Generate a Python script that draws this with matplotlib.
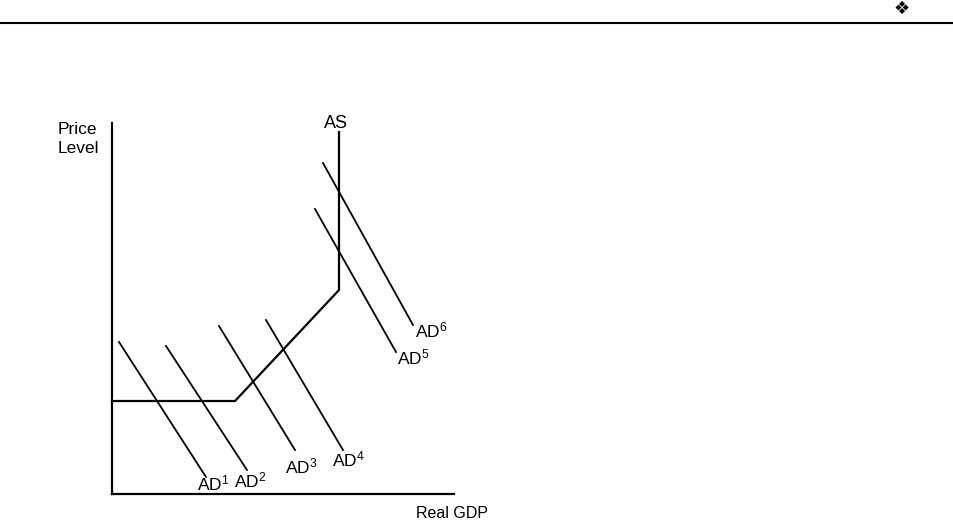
import matplotlib
matplotlib.use("Agg")
import matplotlib.pyplot as plt
from matplotlib.lines import Line2D

plt.rcParams['font.family'] = ['Liberation Sans', 'DejaVu Sans']
plt.rcParams['mathtext.default'] = 'regular'

# Aggregate supply curve (Real GDP, Price Level)
as_gdp = [0, 123, 227, 227]
as_price = [93, 93, 204, 362]

# Aggregate demand curves: start and end points
ad_names = ['AD$^{1}$', 'AD$^{2}$', 'AD$^{3}$', 'AD$^{4}$', 'AD$^{5}$', 'AD$^{6}$']
ad_gdp_start = [7, 54, 107, 154, 203, 211]
ad_price_start = [152, 148, 168, 174, 285, 331]
ad_gdp_end = [94, 135, 183, 231, 284, 301]
ad_price_end = [17, 24, 44, 44, 142, 169]

# Label anchor points
ad_label_gdp = [85, 122, 173, 220, 285, 303]
ad_label_price = [11, 14, 28, 35, 137, 164]

W, H = 954, 526
fig = plt.figure(figsize=(W / 100, H / 100), dpi=100)

# header rule and ornament
fig.add_artist(Line2D([0, 1], [1 - 23 / H, 1 - 23 / H], transform=fig.transFigure,
                      color='black', lw=1.5))
fig.text(902 / W, 1 - 9 / H, '\u2756', family=['DejaVu Sans'], fontsize=13,
         ha='center', va='center')

left, right, top, bottom = 112, 454, 123, 494
ax = fig.add_axes([left / W, 1 - bottom / H, (right - left) / W, (bottom - top) / H])
ax.set_xlim(0, right - left)
ax.set_ylim(0, bottom - top)
for s in ['top', 'right']:
    ax.spines[s].set_visible(False)
for s in ['left', 'bottom']:
    ax.spines[s].set_linewidth(1.6)
ax.set_xticks([])
ax.set_yticks([])

ax.plot(as_gdp, as_price, color='black', lw=1.6, solid_joinstyle='miter', clip_on=False)
ax.text(as_gdp[-1] - 3, as_price[-1] + 9, 'AS', fontsize=13, ha='center', va='center')

for i, name in enumerate(ad_names):
    ax.plot([ad_gdp_start[i], ad_gdp_end[i]], [ad_price_start[i], ad_price_end[i]],
            color='black', lw=1.3, clip_on=False)
    ax.text(ad_label_gdp[i], ad_label_price[i], name, fontsize=12.5,
            ha='left', va='center', clip_on=False)

ax.text(-54, 355, 'Price\nLevel', fontsize=12.5, ha='left', va='center',
        linespacing=1.4, clip_on=False)
ax.text(304, -20, 'Real GDP', fontsize=11.5, ha='left', va='center', clip_on=False)

fig.savefig('out.png', dpi=100)
